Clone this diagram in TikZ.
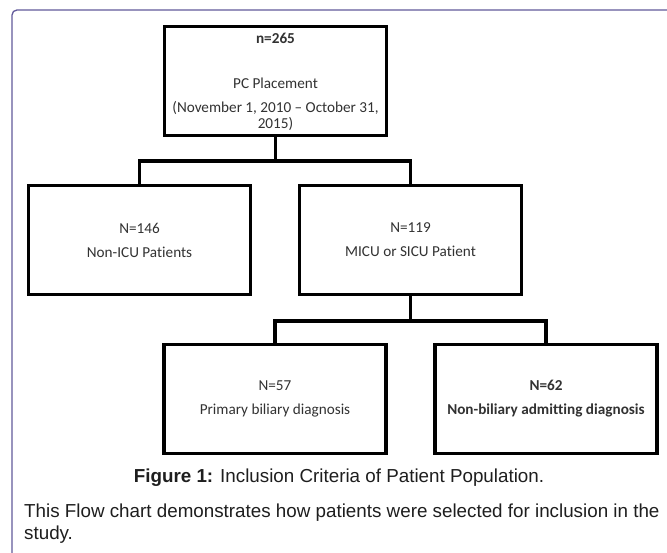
\documentclass[tikz,border=0pt]{standalone}
\usepackage{fontspec}
\newfontfamily\boxfont[Ligatures={NoCommon}]{Carlito}
\newfontfamily\capfont{Liberation Sans}
\definecolor{framecol}{RGB}{98,90,155}
\definecolor{boxtext}{RGB}{50,50,50}
\definecolor{captext}{RGB}{30,30,30}
\begin{document}
\begin{tikzpicture}[x=1pt,y=-1pt,
  flowbox/.style={draw=black, line width=3.6pt, line join=miter, minimum width=222pt, minimum height=109pt, inner sep=0pt, fill=white},
  boxlabel/.style={font=\boxfont\fontsize{15.2}{24}\selectfont, text=boxtext, align=center, inner sep=0pt},
  link/.style={draw=black, line width=3.6pt, line join=miter, line cap=rect},
  captxt/.style={font=\capfont\fontsize{18.8}{22}\selectfont, text=captext, inner sep=0pt}
]
\useasboundingbox (0,0) rectangle (667,553);
\fill[white] (0,0) rectangle (667,553);
% frame
\draw[framecol, line width=1.3pt, rounded corners=5pt] (668,10) -- (12,10) -- (12,554);

% boxes
\node[flowbox] (top) at (275.5,81) {};
\node[flowbox] (left) at (139.5,240) {};
\node[flowbox] (mid) at (410.5,240) {};
\node[flowbox] (bl) at (275,399) {};
\node[flowbox] (br) at (546,399) {};

% junctions
\coordinate (j1) at (275.5,161);
\coordinate (j2) at (410.5,321);

% connectors
\draw[link] (top.south) -- (j1);
\draw[link] (left.north) |- (j1) -| (mid.north);
\draw[link] (mid.south) -- (j2);
\draw[link] (bl.north) |- (j2) -| (br.north);

% box texts
\node[boxlabel, font=\boxfont\bfseries\fontsize{15.2}{24}\selectfont] (t1) at (275.5,38) {n=265};
\node[boxlabel] (t2) at (275.5,83) {PC Placement};
\node[boxlabel, font=\boxfont\fontsize{15.2}{16.5}\selectfont, anchor=north] (t3) at (275.5,101) {(November 1, 2010 – October 31,\\2015)};
\node[boxlabel] (l1) at (left.center) {N=146\\Non-ICU Patients};
\node[boxlabel] (m1) at (mid.center) {N=119\\MICU or SICU Patient};
\node[boxlabel] (b1) at (bl.center) {N=57\\Primary biliary diagnosis};
\node[boxlabel, font=\boxfont\bfseries\fontsize{15.2}{24}\selectfont] (b2) at (br.center) {N=62\\Non-biliary admitting diagnosis};

% caption
\node[captxt] (cap) at (339,478) {\textbf{Figure 1:} Inclusion Criteria of Patient Population.};
\node[captxt, anchor=west] (p1) at (24,513) {This Flow chart demonstrates how patients were selected for inclusion in the};
\node[captxt, anchor=west] (p2) at (24,535) {study.};
\end{tikzpicture}
\end{document}
